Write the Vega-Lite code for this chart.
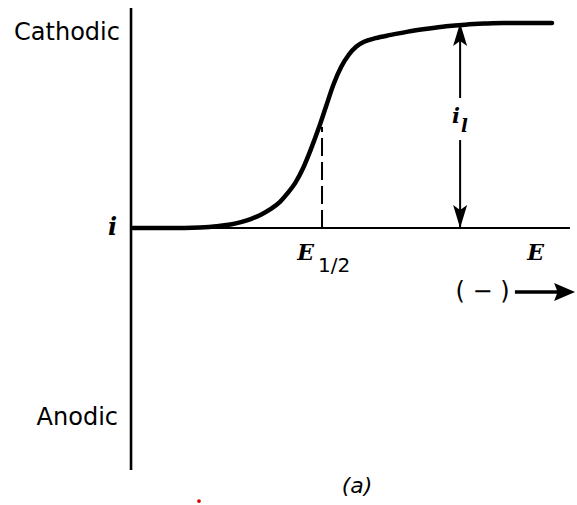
{
  "$schema": "https://vega.github.io/schema/vega-lite/v6.json",
  "width": 577,
  "height": 505,
  "autosize": {"type": "fit", "contains": "padding"},
  "padding": 0,
  "background": "white",
  "config": {"view": {"stroke": null}},
  "datasets": {
    "wave": [
      {"E": 0.01, "i": 0.0},
      {"E": 0.2, "i": 0.0},
      {"E": 0.36, "i": 0.003},
      {"E": 0.46, "i": 0.01},
      {"E": 0.52, "i": 0.017},
      {"E": 0.58, "i": 0.03},
      {"E": 0.63, "i": 0.045},
      {"E": 0.68, "i": 0.065},
      {"E": 0.73, "i": 0.092},
      {"E": 0.78, "i": 0.128},
      {"E": 0.82, "i": 0.17},
      {"E": 0.86, "i": 0.22},
      {"E": 0.9, "i": 0.29},
      {"E": 0.94, "i": 0.38},
      {"E": 0.98, "i": 0.48},
      {"E": 1.02, "i": 0.59},
      {"E": 1.06, "i": 0.7},
      {"E": 1.1, "i": 0.785},
      {"E": 1.14, "i": 0.845},
      {"E": 1.18, "i": 0.885},
      {"E": 1.22, "i": 0.908},
      {"E": 1.28, "i": 0.926},
      {"E": 1.36, "i": 0.942},
      {"E": 1.45, "i": 0.958},
      {"E": 1.55, "i": 0.972},
      {"E": 1.65, "i": 0.984},
      {"E": 1.75, "i": 0.992},
      {"E": 1.85, "i": 0.997},
      {"E": 1.95, "i": 1.0},
      {"E": 2.204, "i": 1.0}
    ]
  },
  "encoding": {
    "x": {"type": "quantitative", "scale": {"domain": [-0.686, 2.335], "nice": false, "zero": false}, "axis": null},
    "y": {"type": "quantitative", "scale": {"domain": [-1.3512, 1.1122], "nice": false, "zero": false}, "axis": null}
  },
  "layer": [
    {
      "data": {"values": [{"E": 0, "lo": -1.18, "hi": 1.073}]},
      "mark": {"type": "rule", "strokeWidth": 2.6, "color": "black"},
      "encoding": {"x": {"field": "E"}, "y": {"field": "lo"}, "y2": {"field": "hi"}}
    },
    {
      "data": {"values": [{"i": 0, "from": 0, "to": 2.298}]},
      "mark": {"type": "rule", "strokeWidth": 2, "color": "black"},
      "encoding": {"y": {"field": "i"}, "x": {"field": "from"}, "x2": {"field": "to"}}
    },
    {
      "data": {"values": [{"E": 1.0, "lo": 0, "hi": 0.493}]},
      "mark": {"type": "rule", "strokeWidth": 2, "strokeDash": [18, 6], "color": "black"},
      "encoding": {"x": {"field": "E"}, "y": {"field": "lo"}, "y2": {"field": "hi"}}
    },
    {
      "data": {"values": [{"E": 1.723, "lo": 0.634, "hi": 1.0}, {"E": 1.723, "lo": 0.0, "hi": 0.429}]},
      "mark": {"type": "rule", "strokeWidth": 2, "color": "black"},
      "encoding": {"x": {"field": "E"}, "y": {"field": "lo"}, "y2": {"field": "hi"}}
    },
    {
      "data": {"name": "wave"},
      "mark": {"type": "line", "interpolate": "monotone", "strokeWidth": 4.5, "color": "black", "strokeCap": "round"},
      "encoding": {"x": {"field": "E"}, "y": {"field": "i"}}
    },
    {
      "data": {"values": [{"E": 1.723, "i": 1.0}]},
      "mark": {"type": "point", "filled": true, "opacity": 1, "color": "black", "size": 100, "shape": "M0,0 L1.4,4.6 L0,3.6 L-1.4,4.6 Z"},
      "encoding": {"x": {"field": "E"}, "y": {"field": "i"}}
    },
    {
      "data": {"values": [{"E": 1.723, "i": 0.0}]},
      "mark": {"type": "point", "filled": true, "opacity": 1, "color": "black", "size": 100, "shape": "M0,0 L1.4,-4.6 L0,-3.6 L-1.4,-4.6 Z"},
      "encoding": {"x": {"field": "E"}, "y": {"field": "i"}}
    },
    {
      "data": {"values": [{"i": -0.312, "from": 2.01, "to": 2.27}]},
      "mark": {"type": "rule", "strokeWidth": 3.5, "color": "black"},
      "encoding": {"y": {"field": "i"}, "x": {"field": "from"}, "x2": {"field": "to"}}
    },
    {
      "data": {"values": [{"E": 2.325, "i": -0.312}]},
      "mark": {"type": "point", "filled": true, "opacity": 1, "color": "black", "size": 100, "shape": "M0,0 L-4.2,-1.8 L-3.5,0 L-4.2,1.8 Z"},
      "encoding": {"x": {"field": "E"}, "y": {"field": "i"}}
    },
    {
      "data": {"values": [{"E": 0.356, "i": -1.332}]},
      "mark": {"type": "point", "filled": true, "opacity": 1, "color": "#d40000", "size": 14, "shape": "circle"},
      "encoding": {"x": {"field": "E"}, "y": {"field": "i"}}
    },
    {
      "data": {"values": [{"label": "Cathodic", "E": -0.058, "i": 0.917}, {"label": "Anodic", "E": -0.068, "i": -0.961}]},
      "mark": {"type": "text", "font": "DejaVu Sans", "fontSize": 24, "align": "right", "baseline": "alphabetic", "color": "black"},
      "encoding": {"x": {"field": "E"}, "y": {"field": "i"}, "text": {"field": "label"}}
    },
    {
      "data": {"values": [{"label": "i", "E": -0.073, "i": -0.034}]},
      "mark": {"type": "text", "font": "DejaVu Serif", "fontSize": 24, "fontWeight": "bold", "fontStyle": "italic", "align": "right", "baseline": "alphabetic", "color": "black"},
      "encoding": {"x": {"field": "E"}, "y": {"field": "i"}, "text": {"field": "label"}}
    },
    {
      "data": {"values": [{"label": "E", "E": 0.87, "i": -0.156}, {"label": "E", "E": 2.074, "i": -0.156}]},
      "mark": {"type": "text", "font": "DejaVu Serif", "fontSize": 22, "fontWeight": "bold", "fontStyle": "italic", "align": "left", "baseline": "alphabetic", "color": "black"},
      "encoding": {"x": {"field": "E"}, "y": {"field": "i"}, "text": {"field": "label"}}
    },
    {
      "data": {"values": [{"label": "1/2", "E": 0.979, "i": -0.215}]},
      "mark": {"type": "text", "font": "DejaVu Sans", "fontSize": 20, "align": "left", "baseline": "alphabetic", "color": "black"},
      "encoding": {"x": {"field": "E"}, "y": {"field": "i"}, "text": {"field": "label"}}
    },
    {
      "data": {"values": [{"label": "i", "E": 1.681, "i": 0.512}]},
      "mark": {"type": "text", "font": "DejaVu Serif", "fontSize": 21, "fontWeight": "bold", "fontStyle": "italic", "align": "left", "baseline": "alphabetic", "color": "black"},
      "encoding": {"x": {"field": "E"}, "y": {"field": "i"}, "text": {"field": "label"}}
    },
    {
      "data": {"values": [{"label": "l", "E": 1.728, "i": 0.468}]},
      "mark": {"type": "text", "font": "DejaVu Serif", "fontSize": 18, "fontWeight": "bold", "fontStyle": "italic", "align": "left", "baseline": "alphabetic", "color": "black"},
      "encoding": {"x": {"field": "E"}, "y": {"field": "i"}, "text": {"field": "label"}}
    },
    {
      "data": {"values": [{"label": "( − )", "E": 1.84, "i": -0.312}]},
      "mark": {"type": "text", "font": "DejaVu Sans", "fontSize": 24, "align": "center", "baseline": "middle", "color": "black"},
      "encoding": {"x": {"field": "E"}, "y": {"field": "i"}, "text": {"field": "label"}}
    },
    {
      "data": {"values": [{"label": "(a)", "E": 1.183, "i": -1.259}]},
      "mark": {"type": "text", "font": "DejaVu Sans", "fontSize": 22, "fontStyle": "italic", "align": "center", "baseline": "middle", "color": "black"},
      "encoding": {"x": {"field": "E"}, "y": {"field": "i"}, "text": {"field": "label"}}
    }
  ]
}
